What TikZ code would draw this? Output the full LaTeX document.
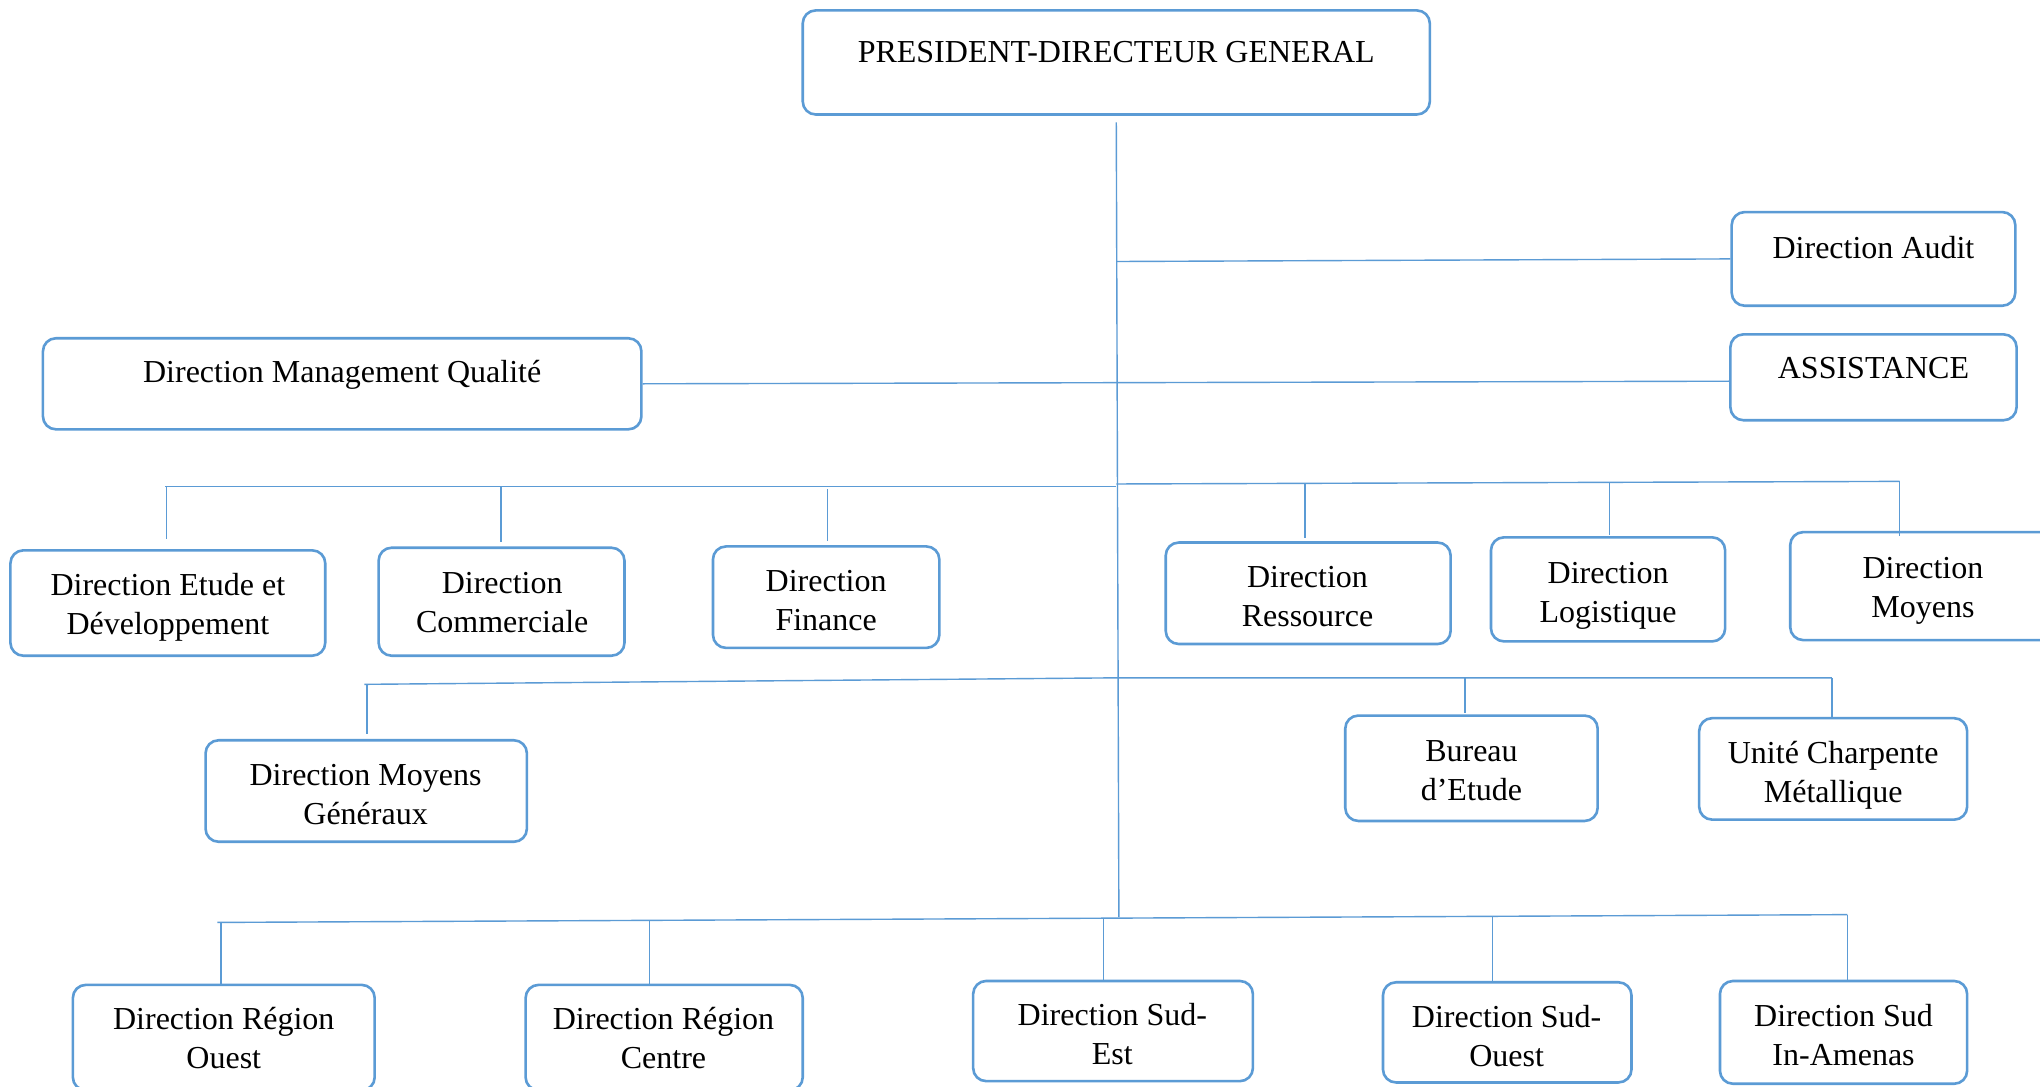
\documentclass[tikz,border=0pt]{standalone}
\usepackage{fontspec}
\setmainfont{Liberation Serif}
\definecolor{boxblue}{HTML}{5B9BD5}
\definecolor{lineblue}{HTML}{5B9BD5}
\newcommand\mylines[1]{\begin{tabular}{@{}c@{}}#1\end{tabular}}
\tikzset{
  orgbox/.style={draw=boxblue, line width=2.6pt, rounded corners=13pt, inner sep=0pt},
  txt/.style={font=\fontsize{32}{39}\selectfont, inner sep=0pt},
  conn/.style={draw=lineblue, line width=1.4pt},
}
% #1 name, #2 x1, #3 y1, #4 x2, #5 y2
\newcommand\orgbx[5]{\node[orgbox, minimum width={(#4-#2)*1.301pt}, minimum height={(#5-#3)*1.301pt}] (#1) at ({(#2+#4)/2},{(#3+#5)/2}) {};}
\begin{document}
\begin{tikzpicture}[x=1.301pt, y=-1.301pt]
\useasboundingbox (0,0) rectangle (1568,835);
\clip (0,0) rectangle (1568,835);
\fill[white] (0,0) rectangle (1568,835);

% boxes
\orgbx{pdg}{617}{8}{1099}{88}
\orgbx{audit}{1331}{163}{1549}{235}
\orgbx{assist}{1330}{257}{1550}{323}
\orgbx{dmq}{33}{260}{493}{330}
\orgbx{etude}{8}{423}{250}{504}
\orgbx{comm}{291}{421}{480}{504}
\orgbx{fin}{548}{420}{722}{498}
\orgbx{res}{896}{417}{1115}{495}
\orgbx{logi}{1146}{413}{1326}{493}
\orgbx{moy}{1376}{409}{1582}{492}
\orgbx{mg}{158}{569}{405}{647}
\orgbx{bur}{1034}{550}{1228}{631}
\orgbx{uni}{1306}{552}{1512}{630}
\orgbx{ouest}{56}{757}{288}{838}
\orgbx{centre}{404}{757}{617}{838}
\orgbx{sudest}{748}{754}{963}{831}
\orgbx{sudouest}{1063}{755}{1254}{832}
\orgbx{amenas}{1322}{754}{1512}{833}

% texts
\node[txt] (pdgT) at (858,42) {\mylines{PRESIDENT-DIRECTEUR GENERAL}};
\node[txt] (auditT) at (1440,193) {\mylines{Direction Audit}};
\node[txt] (assistT) at (1440,285) {\mylines{ASSISTANCE}};
\node[txt] (dmqT) at (263,288) {\mylines{Direction Management Qualité}};
\node[txt] (etudeT) at (129,467) {\mylines{Direction Etude et\\Développement}};
\node[txt] (commT) at (386,465.5) {\mylines{Direction\\Commerciale}};
\node[txt] (finT) at (635,464) {\mylines{Direction\\Finance}};
\node[txt] (resT) at (1005,460.5) {\mylines{Direction\\Ressource}};
\node[txt] (logiT) at (1236,457.5) {\mylines{Direction\\Logistique}};
\node[txt] (moyT) at (1478,453.5) {\mylines{Direction\\Moyens}};
\node[txt] (mgT) at (281,613) {\mylines{Direction Moyens\\Généraux}};
\node[txt] (burT) at (1131,594) {\mylines{Bureau\\d’Etude}};
\node[txt] (uniT) at (1409,596) {\mylines{Unité Charpente\\Métallique}};
\node[txt] (ouestT) at (172,800.5) {\mylines{Direction Région\\Ouest}};
\node[txt] (centreT) at (510,800.5) {\mylines{Direction Région\\Centre}};
\node[txt] (sudestT) at (855,797) {\mylines{Direction Sud-\\Est}};
\node[txt] (sudouestT) at (1158,799) {\mylines{Direction Sud-\\Ouest}};
\node[txt] (amenasT) at (1417,798) {\mylines{Direction Sud\\In-Amenas}};

% trunk
\coordinate (trunkEnd) at (860,705);
\draw[conn] (pdg.south) ++(0,5) -- (trunkEnd);

% audit / assistance / management qualite
\coordinate (ja) at (858,201);
\draw[conn] (ja) -- (audit.west);
\draw[conn] (dmq.east) -- ([yshift=-3.9pt]assist.west);

% row 1
\coordinate (b1L) at (127,374);
\coordinate (b1M) at (858,374);
\coordinate (b1N) at (858,372);
\coordinate (b1R) at (1460,370);
\draw[conn] (b1L) -- (b1M);
\draw[conn] (b1N) -- (b1R);
\coordinate (d1a) at (128,374);
\coordinate (d1b) at (385,374);
\coordinate (d1c) at (636,376);
\coordinate (d1d) at (1003,372);
\coordinate (d1e) at (1237,371);
\draw[conn, shorten >=10pt] (d1a) -- (d1a |- etude.north);
\draw[conn, shorten >=4pt] (d1b) -- (d1b |- comm.north);
\draw[conn, shorten >=4pt] (d1c) -- (d1c |- fin.north);
\draw[conn, shorten >=3pt] (d1d) -- (d1d |- res.north);
\draw[conn, shorten >=1pt] (d1e) -- (d1e |- logi.north);
\draw[conn, shorten >=-5pt] (b1R) -- (b1R |- moy.north);

% row 2
\coordinate (b2L) at (280,526);
\coordinate (b2M) at (858,521);
\coordinate (b2R) at (1408,521);
\draw[conn] (b2L) -- (b2M) -- (b2R);
\coordinate (d2a) at (282,526);
\coordinate (d2b) at (1126,521);
\draw[conn, shorten >=5pt] (d2a) -- (d2a |- mg.north);
\draw[conn, shorten >=1pt] (d2b) -- (d2b |- bur.north);
\draw[conn, shorten >=-1pt] (b2R) -- (b2R |- uni.north);

% row 3
\coordinate (b3L) at (167,709);
\coordinate (b3R) at (1420,703);
\draw[conn] (b3L) -- (b3R);
\coordinate (d3a) at (170,709);
\coordinate (d3b) at (499,707.4);
\coordinate (d3c) at (848,705.7);
\coordinate (d3d) at (1147,704.3);
\draw[conn] (d3a) -- (d3a |- ouest.north);
\draw[conn] (d3b) -- (d3b |- centre.north);
\draw[conn] (d3c) -- (d3c |- sudest.north);
\draw[conn] (d3d) -- (d3d |- sudouest.north);
\draw[conn] (b3R) -- (b3R |- amenas.north);
\end{tikzpicture}
\end{document}
